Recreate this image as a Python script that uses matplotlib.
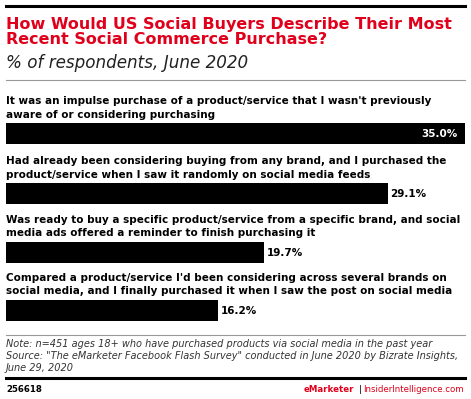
import matplotlib
matplotlib.use('Agg')
import matplotlib.pyplot as plt

# data
labels = [
    ["It was an impulse purchase of a product/service that I wasn't previously",
     "aware of or considering purchasing"],
    ["Had already been considering buying from any brand, and I purchased the",
     "product/service when I saw it randomly on social media feeds"],
    ["Was ready to buy a specific product/service from a specific brand, and social",
     "media ads offered a reminder to finish purchasing it"],
    ["Compared a product/service I'd been considering across several brands on",
     "social media, and I finally purchased it when I saw the post on social media"],
]
values = [35.0, 29.1, 19.7, 16.2]
value_text = ["35.0%", "29.1%", "19.7%", "16.2%"]

title = "How Would US Social Buyers Describe Their Most\nRecent Social Commerce Purchase?"
subtitle = "% of respondents, June 2020"
note = ["Note: n=451 ages 18+ who have purchased products via social media in the past year",
        "Source: \"The eMarketer Facebook Flash Survey\" conducted in June 2020 by Bizrate Insights,",
        "June 29, 2020"]
chart_id = "256618"

RED = '#e0001b'
W, H = 471, 399
plt.rcParams['font.family'] = ['DejaVu Sans']

fig = plt.figure(figsize=(W / 100, H / 100), dpi=100)

def fx(x):
    return x / W

def fy(y):
    return 1 - y / H

# rules
fig.add_artist(plt.Line2D([fx(6), fx(465)], [fy(6), fy(6)], color='black', lw=2.2))
fig.add_artist(plt.Line2D([fx(6), fx(465)], [fy(80), fy(80)], color='#999999', lw=0.8))
fig.add_artist(plt.Line2D([fx(6), fx(465)], [fy(335), fy(335)], color='#999999', lw=0.8))
fig.add_artist(plt.Line2D([fx(6), fx(465)], [fy(378), fy(378)], color='black', lw=2.2))

# title block
t1, t2 = title.split('\n')
fig.text(fx(6), fy(28.5), t1, color=RED, fontsize=11.5, fontweight='bold', va='baseline')
fig.text(fx(6), fy(44), t2, color=RED, fontsize=11.5, fontweight='bold', va='baseline')
fig.text(fx(6), fy(68.5), subtitle, fontsize=12.1, style='italic', va='baseline', color='#222222')

# bars
ax = fig.add_axes([fx(6), 0, fx(465) - fx(6), 1])
ax.set_xlim(0, 35.0)
ax.set_ylim(H, 0)
ax.axis('off')

bar_tops = [123, 183, 242, 300]
bar_h = 20.5
centers = [t + bar_h / 2 for t in bar_tops]
ax.barh(centers, values, height=bar_h, color='black')

fs = 7.5
for i, (lab, v, vt) in enumerate(zip(labels, values, value_text)):
    base = bar_tops[i] - 5.5
    ax.text(0, base - 13.2, lab[0], fontsize=fs, fontweight='bold', va='baseline', ha='left')
    ax.text(0, base, lab[1], fontsize=fs, fontweight='bold', va='baseline', ha='left')
    if i == 0:
        ax.text(v - 0.55, centers[i] + 0.5, vt, color='white', fontsize=fs, fontweight='bold',
                ha='right', va='center')
    else:
        ax.text(v + 0.2, centers[i] + 0.5, vt, color='black', fontsize=fs, fontweight='bold',
                ha='left', va='center')

# notes
for j, line in enumerate(note):
    fig.text(fx(6), fy(347 + j * 12), line, fontsize=7, style='italic', va='baseline',
             color='#333333')

# footer
fig.text(fx(6), fy(392), chart_id, fontsize=6.2, fontweight='bold', va='baseline')
fig.text(fx(354), fy(392), "eMarketer", fontsize=6.2, fontweight='bold', color=RED, va='baseline', ha='right')
fig.text(fx(360), fy(392), "|", fontsize=6.2, color='black', va='baseline', ha='center')
fig.text(fx(464), fy(392), "InsiderIntelligence.com", fontsize=6.2, color=RED, va='baseline', ha='right')

fig.savefig('out.png', dpi=100)
